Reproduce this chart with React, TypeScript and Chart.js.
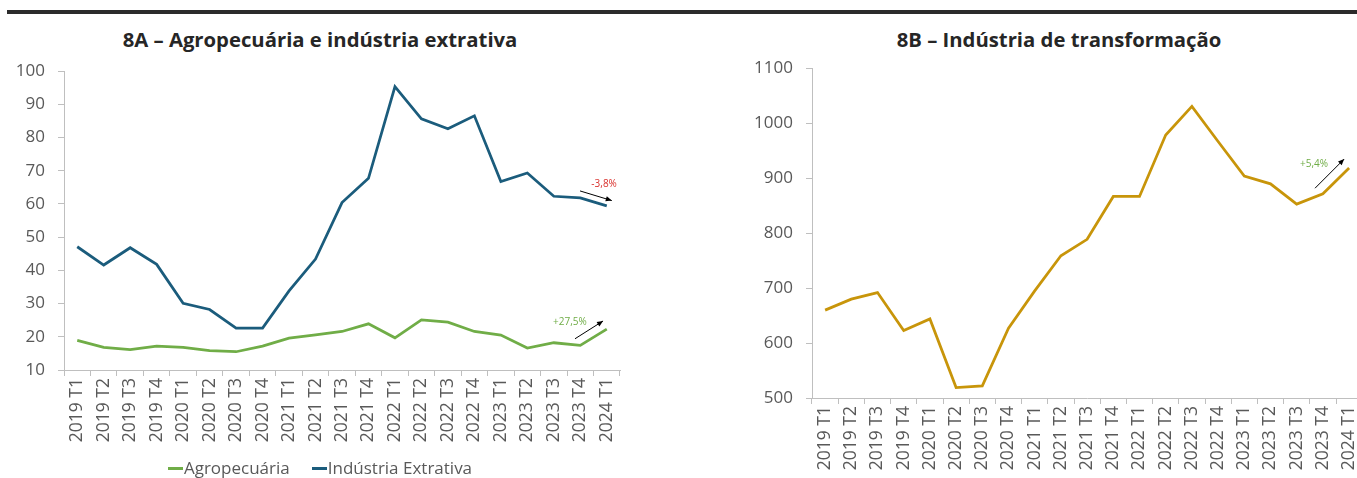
import React, { useEffect, useRef } from "react";
import { Chart, registerables } from "chart.js";

Chart.register(...registerables);

// ---------- DATA ----------
const quarters = [
  "2019 T1", "2019 T2", "2019 T3", "2019 T4",
  "2020 T1", "2020 T2", "2020 T3", "2020 T4",
  "2021 T1", "2021 T2", "2021 T3", "2021 T4",
  "2022 T1", "2022 T2", "2022 T3", "2022 T4",
  "2023 T1", "2023 T2", "2023 T3", "2023 T4",
  "2024 T1",
];

const agropecuaria = [
  18.9, 16.8, 16.1, 17.2, 16.8, 15.8, 15.5, 17.2, 19.6, 20.6, 21.6,
  23.9, 19.7, 25.1, 24.4, 21.6, 20.5, 16.6, 18.2, 17.4, 22.3,
];

const extrativa = [
  47.1, 41.6, 46.8, 41.8, 30.1, 28.2, 22.6, 22.6, 33.8, 43.4, 60.4,
  67.7, 95.3, 85.6, 82.6, 86.5, 66.7, 69.3, 62.3, 61.8, 59.4,
];

const transformacao = [
  660, 680, 692, 623, 644, 519, 522, 627, 695, 759, 789,
  867, 867, 979, 1031, 967, 904, 890, 853, 872, 919,
];

const leftTicks = { min: 10, max: 100, step: 10 };
const rightTicks = { min: 500, max: 1100, step: 100 };

// trend annotations: [categoryIndex, value]
const leftNotes = [
  { text: "-3,8%", color: "#D9302C", at: [19.9, 66.0], from: [18.99, 63.9], to: [20.19, 61.0] },
  { text: "+27,5%", color: "#70AD47", at: [18.61, 24.5], from: [18.8, 19.4], to: [19.86, 24.75] },
];
const rightNotes = [
  { text: "+5,4%", color: "#70AD47", at: [18.66, 926], from: [18.7, 882], to: [19.81, 935] },
];

// ---------- STYLE ----------
const FONT = "'Open Sans', 'DejaVu Sans', sans-serif";
const GREEN = "#70AD47";
const BLUE = "#1B5C7C";
const GOLD = "#C8950A";
const AXIS = "#BFBFBF";
const TICK = "#595959";

const trendArrows = {
  id: "trendArrows",
  afterDatasetsDraw(chart: any, _args: any, opts: any) {
    const items = (opts && opts.items) || [];
    const { ctx } = chart;
    const xs = chart.scales.x;
    const ys = chart.scales.y;
    ctx.save();
    for (const a of items) {
      const x1 = xs.getPixelForValue(a.from[0]);
      const y1 = ys.getPixelForValue(a.from[1]);
      const x2 = xs.getPixelForValue(a.to[0]);
      const y2 = ys.getPixelForValue(a.to[1]);
      ctx.strokeStyle = "#000";
      ctx.fillStyle = "#000";
      ctx.lineWidth = 1;
      ctx.beginPath();
      ctx.moveTo(x1, y1);
      ctx.lineTo(x2, y2);
      ctx.stroke();
      const ang = Math.atan2(y2 - y1, x2 - x1);
      const L = 6, W = 2.6;
      ctx.beginPath();
      ctx.moveTo(x2, y2);
      ctx.lineTo(x2 - L * Math.cos(ang) + W * Math.sin(ang), y2 - L * Math.sin(ang) - W * Math.cos(ang));
      ctx.lineTo(x2 - L * Math.cos(ang) - W * Math.sin(ang), y2 - L * Math.sin(ang) + W * Math.cos(ang));
      ctx.closePath();
      ctx.fill();
      ctx.font = `10px ${FONT}`;
      ctx.fillStyle = a.color;
      ctx.textAlign = "center";
      ctx.textBaseline = "middle";
      ctx.fillText(a.text, xs.getPixelForValue(a.at[0]), ys.getPixelForValue(a.at[1]));
    }
    ctx.restore();
  },
};

function makeScales(t: any, yWidth: number, xHeight: number) {
  return {
    x: {
      type: "category",
      offset: true,
      grid: { offset: true, drawOnChartArea: false, drawTicks: true, tickLength: 6, color: AXIS, lineWidth: 1 },
      border: { color: AXIS, width: 1 },
      ticks: {
        autoSkip: false,
        maxRotation: 90,
        minRotation: 90,
        padding: 2,
        color: TICK,
        font: { family: FONT, size: 17.5 },
      },
      afterFit: (s: any) => {
        s.height = xHeight;
      },
    },
    y: {
      min: t.min,
      max: t.max,
      grid: { drawOnChartArea: false, drawTicks: true, tickLength: 6, color: AXIS, lineWidth: 1 },
      border: { color: AXIS, width: 1 },
      ticks: {
        stepSize: t.step,
        padding: 13,
        color: TICK,
        font: { family: FONT, size: 17 },
        callback: (v: any) => String(v),
      },
      afterFit: (s: any) => {
        s.width = yWidth;
      },
    },
  };
}

function ChartCanvas({ config, left, width }: { config: any; left: number; width: number }) {
  const ref = useRef<HTMLCanvasElement | null>(null);
  useEffect(() => {
    if (!ref.current) return;
    const chart = new Chart(ref.current, config);
    return () => chart.destroy();
  }, []);
  return (
    <canvas
      ref={ref}
      width={width}
      height={478}
      style={{ position: "absolute", left, top: 0, width, height: 478 }}
    />
  );
}

const leftConfig = {
  type: "line",
  data: {
    labels: quarters,
    datasets: [
      { label: "Agropecuária", data: agropecuaria, borderColor: GREEN, backgroundColor: GREEN, borderWidth: 2.75, pointRadius: 0, tension: 0 },
      { label: "Indústria Extrativa", data: extrativa, borderColor: BLUE, backgroundColor: BLUE, borderWidth: 2.75, pointRadius: 0, tension: 0 },
    ],
  },
  options: {
    responsive: false,
    animation: false,
    devicePixelRatio: 1,
    layout: { padding: { top: 71, right: 20, left: 0, bottom: 0 } },
    plugins: {
      legend: { display: false },
      tooltip: { enabled: false },
      trendArrows: { items: leftNotes },
    },
    scales: makeScales(leftTicks, 64, 108),
  },
  plugins: [trendArrows],
};

const rightConfig = {
  type: "line",
  data: {
    labels: quarters,
    datasets: [
      { label: "Indústria de transformação", data: transformacao, borderColor: GOLD, backgroundColor: GOLD, borderWidth: 2.75, pointRadius: 0, tension: 0 },
    ],
  },
  options: {
    responsive: false,
    animation: false,
    devicePixelRatio: 1,
    layout: { padding: { top: 68.5, right: 55.8, left: 0, bottom: 0 } },
    plugins: {
      legend: { display: false },
      tooltip: { enabled: false },
      trendArrows: { items: rightNotes },
    },
    scales: makeScales(rightTicks, 112, 80),
  },
  plugins: [trendArrows],
};

const titleStyle: React.CSSProperties = {
  position: "absolute",
  top: 26,
  height: 26,
  lineHeight: "26px",
  textAlign: "center",
  fontFamily: FONT,
  fontWeight: 700,
  fontSize: 20.3,
  color: "#262626",
  whiteSpace: "nowrap",
};

function LegendItem({ color, text }: { color: string; text: string }) {
  return (
    <span style={{ display: "inline-flex", alignItems: "center", margin: "0 11px" }}>
      <span style={{ display: "inline-block", width: 15, height: 3, background: color, marginRight: 1 }} />
      <span>{text}</span>
    </span>
  );
}

export default function App() {
  return (
    <div
      style={{
        position: "absolute",
        left: 0,
        top: 0,
        width: 1357,
        height: 478,
        overflow: "hidden",
        background: "#fff",
      }}
    >
      <div style={{ position: "absolute", left: 7, top: 10, width: 1350, height: 4, background: "#2B2B2B" }} />
      <div style={{ ...titleStyle, left: 0, width: 640 }}>8A – Agropecuária e indústria extrativa</div>
      <div style={{ ...titleStyle, left: 700, width: 718 }}>8B – Indústria de transformação</div>
      <ChartCanvas config={leftConfig} left={0} width={640} />
      <ChartCanvas config={rightConfig} left={700} width={718} />
      <div
        style={{
          position: "absolute",
          left: 0,
          width: 640,
          top: 456,
          height: 24,
          lineHeight: "24px",
          display: "flex",
          justifyContent: "center",
          fontFamily: FONT,
          fontSize: 17,
          color: TICK,
        }}
      >
        <LegendItem color={GREEN} text="Agropecuária" />
        <LegendItem color={BLUE} text="Indústria Extrativa" />
      </div>
    </div>
  );
}
